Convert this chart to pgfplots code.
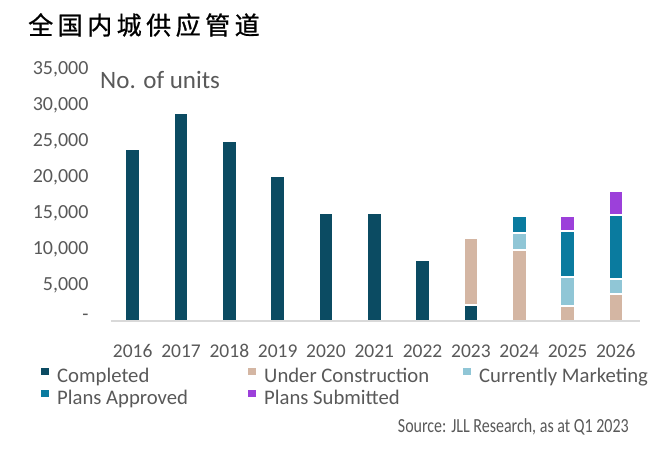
\documentclass[border=0pt]{standalone}
\usepackage{pgfplots}
\pgfplotsset{compat=1.18}
\usepackage{fontspec}
\setmainfont{Carlito}
\newfontfamily\cjk{Noto Sans CJK SC}[FakeBold=0.8]
\newfontfamily\condensed{Carlito}[FakeStretch=0.8]
\definecolor{cCompleted}{HTML}{0B4B62}
\definecolor{cUC}{HTML}{D4B6A3}
\definecolor{cCM}{HTML}{90C6D6}
\definecolor{cPA}{HTML}{0A7B9F}
\definecolor{cPS}{HTML}{9C40DA}
\definecolor{txtgray}{HTML}{595959}
\definecolor{axisgray}{HTML}{D9D9D9}
\pgfplotsset{
  sqleg/.style={legend image code/.code={\fill[##1, draw=none] (0bp,2.5bp) rectangle (7.7bp,10.2bp); \path (14bp,0bp);}},
  segment/.style={draw=white, line width=2bp},
}
\begin{document}
\begin{tikzpicture}
\path[fill=white] (0,0) rectangle (670bp,-453bp);
\node[anchor=west, inner sep=0pt] at (28bp,-25bp) {\cjk\fontsize{25bp}{30bp}\selectfont 全\hspace{4.5bp}国\hspace{4.5bp}内\hspace{4.5bp}城\hspace{4.5bp}供\hspace{4.5bp}应\hspace{4.5bp}管\hspace{4.5bp}道};
\node[anchor=base west, inner sep=0pt, text=txtgray] at (100bp,-88bp) {\fontsize{25bp}{30bp}\selectfont No. of units};
\node[anchor=east, inner sep=0pt, text=txtgray] at (629bp,-427bp) {\condensed\fontsize{20bp}{24bp}\selectfont Source: JLL Research, as at Q1 2023};
\begin{axis}[
  at={(111bp,-321bp)}, anchor=south west,
  scale only axis, width=529bp, height=252bp,
  ybar stacked, bar width=14.7bp,
  ymin=0, ymax=35000, xmin=-0.45, xmax=10.5,
  scaled y ticks=false,
  axis on top,
  axis x line*=bottom, axis y line*=left,
  y axis line style={draw=none},
  x axis line style={draw=axisgray, line width=1.5bp},
  major tick length=0pt,
  xtick={0,1,2,3,4,5,6,7,8,9,10},
  xticklabels={2016,2017,2018,2019,2020,2021,2022,2023,2024,2025,2026},
  ytick={0,5000,10000,15000,20000,25000,30000,35000},
  yticklabels={{\raisebox{8bp}{-}\hspace{7bp}},{5,000},{10,000},{15,000},{20,000},{25,000},{30,000},{35,000}},
  xticklabel style={font=\fontsize{19.5bp}{22bp}\selectfont, text=txtgray, yshift=-20bp},
  yticklabel style={font=\fontsize{20bp}{24bp}\selectfont, text=txtgray, xshift=-19bp},
  legend columns=3,
  legend cell align=left,
  legend style={at={(axis description cs:-0.1323,-0.181)}, anchor=north west, draw=none, fill=none,
    inner sep=0pt, row sep=0pt, column sep=0pt,
    font=\fontsize{20.7bp}{25bp}\selectfont, text=txtgray,
    nodes={inner sep=1bp, text height=15bp, text depth=5bp}},
]
\addplot[fill=cCompleted, segment, sqleg] coordinates {(0,23950) (1,28850) (2,25050) (3,20150) (4,14950) (5,14950) (6,8450) (7,2200) (8,0) (9,0) (10,0)};
\addplot[fill=cUC, segment, sqleg] coordinates {(0,0) (1,0) (2,0) (3,0) (4,0) (5,0) (6,0) (7,9350) (8,9930) (9,2150) (10,3800)};
\addplot[fill=cCM, segment, sqleg] coordinates {(0,0) (1,0) (2,0) (3,0) (4,0) (5,0) (6,0) (7,0) (8,2270) (9,4000) (10,2050)};
\addplot[fill=cPA, segment, sqleg] coordinates {(0,0) (1,0) (2,0) (3,0) (4,0) (5,0) (6,0) (7,0) (8,2350) (9,6420) (10,8850)};
\addplot[fill=cPS, segment, sqleg] coordinates {(0,0) (1,0) (2,0) (3,0) (4,0) (5,0) (6,0) (7,0) (8,0) (9,1980) (10,3350)};
\legend{\makebox[190bp][l]{Completed},\makebox[198bp][l]{Under Construction},Currently Marketing,Plans Approved,Plans Submitted}
\end{axis}
\end{tikzpicture}
\end{document}
